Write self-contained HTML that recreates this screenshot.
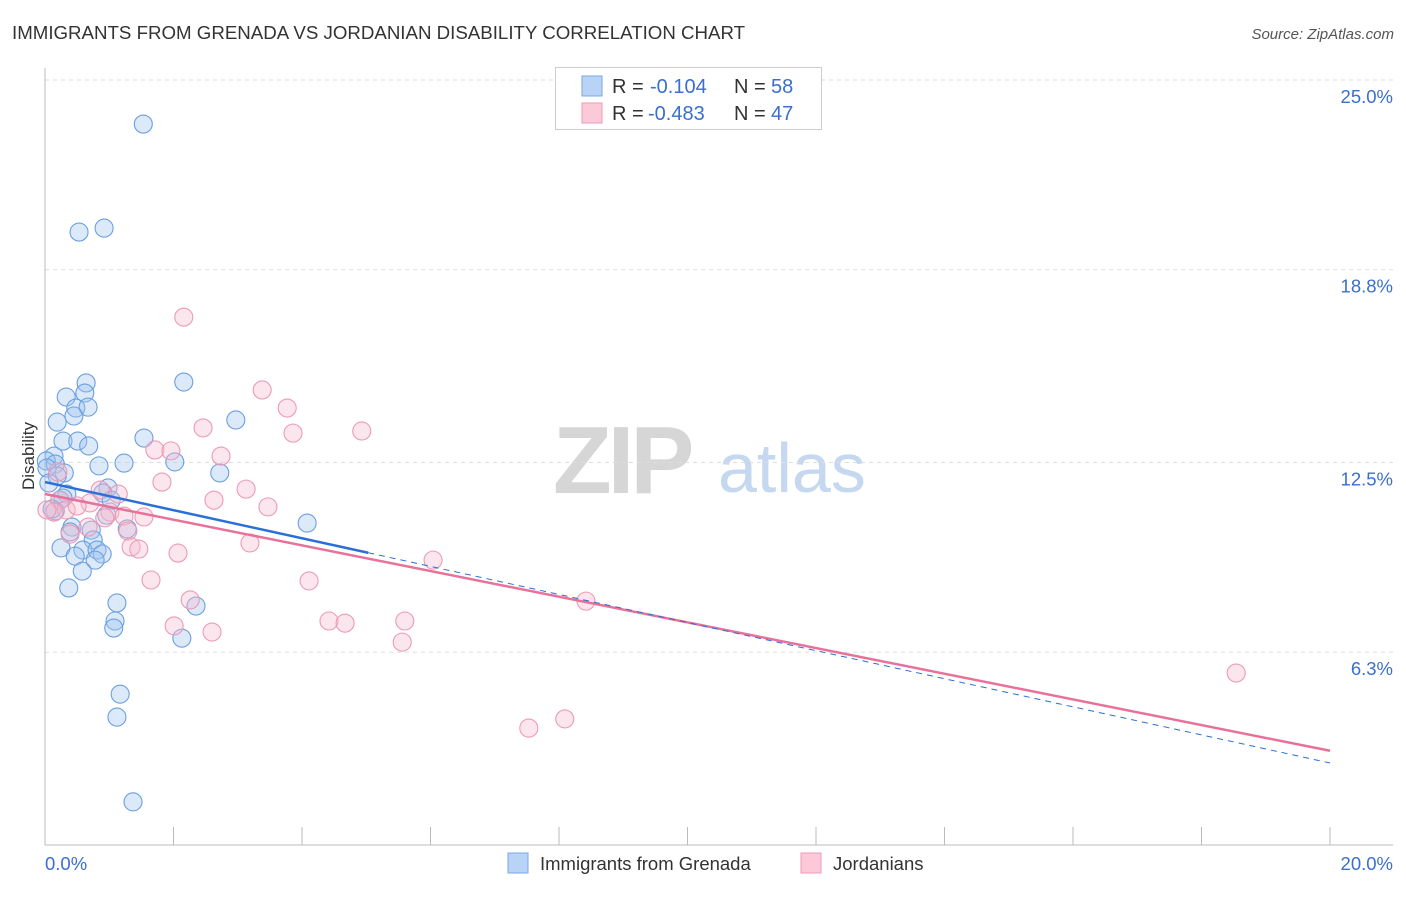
<!DOCTYPE html>
<html><head><meta charset="utf-8"><style>
body{margin:0;background:#fff;font-family:"Liberation Sans",sans-serif}
svg text{font-family:"Liberation Sans",sans-serif}
</style></head><body>
<svg id="c" width="1406" height="892" viewBox="0 0 1406 892" xmlns="http://www.w3.org/2000/svg">
<text x="12" y="39" font-size="18.7" fill="#333">IMMIGRANTS FROM GRENADA VS JORDANIAN DISABILITY CORRELATION CHART</text>
<text x="1394" y="39" font-size="15" fill="#555" font-style="italic" text-anchor="end">Source: ZipAtlas.com</text>
<g>
<text x="553" y="493" font-size="96" fill="#d6d6d6" font-family="Liberation Serif" font-weight="bold" letter-spacing="-4">ZIP</text>
<text x="718" y="492" font-size="70" fill="#c5d8f0">atlas</text>
</g>
<g id="grid"></g>
<g id="axes"></g>
<g id="marks"></g>
<text transform="translate(34,456) rotate(-90)" font-size="17" fill="#333" text-anchor="middle">Disability</text>
<g>
<rect x="555.5" y="67.5" width="266" height="62" fill="#fff" stroke="#ccc"/>
<rect x="582" y="76" width="20" height="20" fill="#b8d3f5" stroke="#7aaae6"/>
<rect x="582" y="103" width="20" height="20" fill="#fcc9d8" stroke="#ef9ab6"/>
<text x="612" y="93" font-size="20" fill="#333">R =</text>
<text x="650" y="93" font-size="20" fill="#3a6fd0">-0.104</text>
<text x="734" y="93" font-size="20" fill="#333">N =</text>
<text x="771" y="93" font-size="20" fill="#3a6fd0">58</text>
<text x="612" y="120" font-size="20" fill="#333">R =</text>
<text x="648" y="120" font-size="20" fill="#3a6fd0">-0.483</text>
<text x="734" y="120" font-size="20" fill="#333">N =</text>
<text x="771" y="120" font-size="20" fill="#3a6fd0">47</text>
</g>
<g>
<rect x="508" y="853" width="20" height="20" fill="#b8d3f5" stroke="#7aaae6"/>
<text x="540" y="870" font-size="18.5" fill="#333">Immigrants from Grenada</text>
<rect x="801" y="853" width="20" height="20" fill="#fcc9d8" stroke="#ef9ab6"/>
<text x="833" y="870" font-size="18.5" fill="#333">Jordanians</text>
</g>
</svg>
<script>
const yTicks=[25.0,18.8,12.5,6.3];
const yTickLabels=["25.0%","18.8%","12.5%","6.3%"];
const xTickLabels=["0.0%","20.0%"];
const blueX=[1.53,0.53,0.92,2.16,0.64,0.33,0.62,0.48,0.67,0.45,0.19,2.97,1.54,0.28,0.51,0.68,2.02,0.14,0.02,0.16,0.03,0.84,1.23,0.30,0.19,2.72,0.06,0.98,0.34,0.90,0.28,1.03,0.23,4.08,0.16,0.96,0.42,1.28,0.39,0.72,0.75,0.25,0.59,0.81,0.89,0.47,0.78,0.58,0.37,2.35,1.12,1.09,1.07,2.13,1.17,1.12,1.37,0.11];
const blueY=[23.56,20.03,20.16,15.13,15.10,14.64,14.77,14.28,14.31,14.02,13.82,13.89,13.30,13.20,13.20,13.04,12.52,12.71,12.55,12.45,12.32,12.39,12.48,12.16,12.06,12.16,11.83,11.67,11.47,11.50,11.34,11.27,11.27,10.52,10.92,10.78,10.39,10.33,10.23,10.29,9.97,9.71,9.64,9.64,9.51,9.44,9.31,8.95,8.40,7.81,7.91,7.32,7.09,6.76,4.93,4.18,1.41,10.98];
const pinkX=[2.16,3.38,3.77,2.46,3.86,4.93,1.71,1.96,2.74,1.82,3.13,2.63,3.47,1.14,0.20,0.23,0.70,0.33,0.14,0.50,1.01,1.23,1.54,0.93,1.29,0.39,0.67,1.34,1.46,2.07,3.19,6.04,1.65,4.11,2.26,8.42,2.01,2.60,4.42,4.67,5.60,5.56,18.54,8.09,7.53,0.86,0.03];
const pinkY=[17.25,14.87,14.28,13.63,13.46,13.53,12.91,12.88,12.71,11.86,11.63,11.27,11.05,11.47,12.19,11.27,11.18,10.95,10.88,11.08,10.88,10.75,10.72,10.69,10.26,10.16,10.39,9.74,9.67,9.54,9.87,9.31,8.66,8.63,8.01,7.97,7.16,6.96,7.32,7.25,7.32,6.63,5.62,4.12,3.82,11.60,10.95];
const blueTrend=[11.86,2.68];
const pinkTrend=[11.47,3.08];
const blueSolidEnd=5.03;

const NS="http://www.w3.org/2000/svg";
const X=v=>45+v*64.25;
const Y=v=>845-v*30.6;
function mk(tag,attrs,parent){const e=document.createElementNS(NS,tag);for(const k in attrs)e.setAttribute(k,attrs[k]);parent.appendChild(e);return e;}
const grid=document.getElementById('grid'),axes=document.getElementById('axes'),marks=document.getElementById('marks');
yTicks.forEach((t,i)=>{
  const l=mk('line',{x1:45,x2:1393,y1:Y(t),y2:Y(t),stroke:'#ddd','stroke-dasharray':'4,4'},grid);
  
  
  const tx=mk('text',{x:1393,y:Y(t)+23,'font-size':18.5,fill:'#3a6fd0','text-anchor':'end'},axes);
  tx.textContent=yTickLabels[i];
  
  
});
const ax=mk('line',{x1:45,x2:45,y1:68,y2:845,stroke:'#bbb'},axes);


const bx=mk('line',{x1:45,x2:1393,y1:845,y2:845,stroke:'#bbb'},axes);


for(let k=1;k<=10;k++){
  const t=mk('line',{x1:X(2*k),x2:X(2*k),y1:827,y2:845,stroke:'#bbb'},axes);
  
  
}
const xl0=mk('text',{x:45,y:870,'font-size':18.5,fill:'#3a6fd0'},axes);xl0.textContent=xTickLabels[0];


const xl1=mk('text',{x:1393,y:870,'font-size':18.5,fill:'#3a6fd0','text-anchor':'end'},axes);xl1.textContent=xTickLabels[1];


blueX.forEach((x,i)=>{
  const c=mk('circle',{cx:X(x),cy:Y(blueY[i]),r:9,fill:'rgba(160,196,240,0.38)',stroke:'#6a9fe0','stroke-width':1.1},marks);
  
  
});
pinkX.forEach((x,i)=>{
  const c=mk('circle',{cx:X(x),cy:Y(pinkY[i]),r:9,fill:'rgba(248,190,208,0.38)',stroke:'#ec9ab5','stroke-width':1.1},marks);
  
  
});
const bAt=x=>blueTrend[0]+(blueTrend[1]-blueTrend[0])*x/20;
const pAt=x=>pinkTrend[0]+(pinkTrend[1]-pinkTrend[0])*x/20;
const pl=mk('line',{x1:X(0),y1:Y(pAt(0)),x2:X(20),y2:Y(pAt(20)),stroke:'#e8709a','stroke-width':2.5},marks);


const bd=mk('line',{x1:X(blueSolidEnd),y1:Y(bAt(blueSolidEnd)),x2:X(20),y2:Y(bAt(20)),stroke:'#2a6fd8','stroke-width':1,'stroke-dasharray':'6,5'},marks);


const bl=mk('line',{x1:X(0),y1:Y(bAt(0)),x2:X(blueSolidEnd),y2:Y(bAt(blueSolidEnd)),stroke:'#2a6fd8','stroke-width':2.5},marks);


</script>
</body></html>
